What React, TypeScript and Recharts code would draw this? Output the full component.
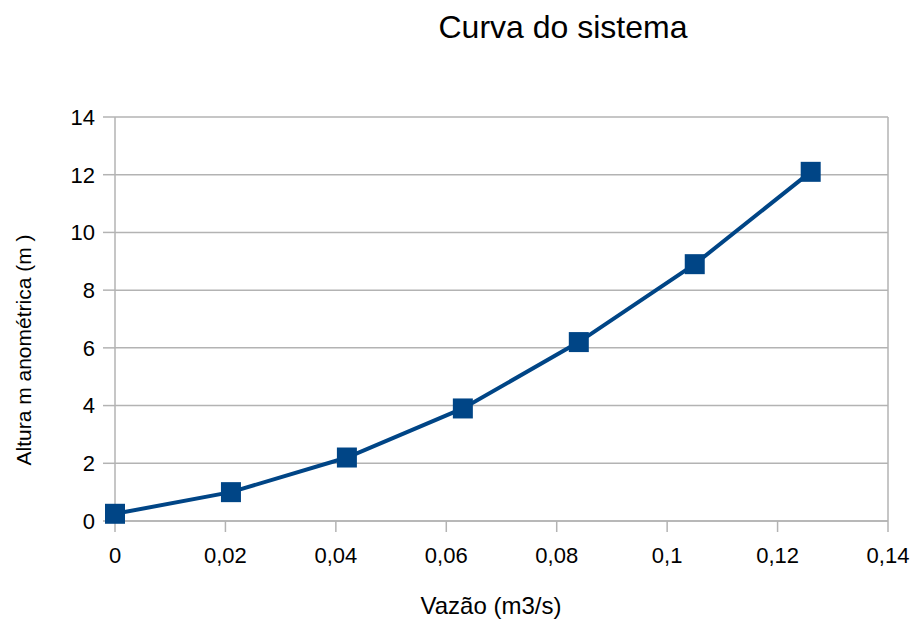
import React from "react";
import {
  LineChart,
  Line,
  XAxis,
  YAxis,
  CartesianGrid,
  ReferenceLine,
} from "recharts";

const vazao = [0, 0.021, 0.042, 0.063, 0.084, 0.105, 0.126];
const altura = [0.25, 1.0, 2.2, 3.9, 6.2, 8.9, 12.1];
const xTicks = [0, 0.02, 0.04, 0.06, 0.08, 0.1, 0.12, 0.14];
const yTicks = [0, 2, 4, 6, 8, 10, 12, 14];

const data = vazao.map((v, i) => ({ vazao: v, altura: altura[i] }));

const FONT = "'Liberation Sans', Arial, sans-serif";
const BLUE = "#004586";
const GRID = "#b3b3b3";

const SquareDot = (props: any) => {
  const { cx, cy } = props;
  if (cx == null || cy == null) return null;
  return <rect x={cx - 10} y={cy - 10} width={20} height={20} fill={BLUE} />;
};

const fmt = (v: number) => String(v).replace(".", ",");

const App = () => {
  return (
    <div style={{ position: "absolute", left: 0, top: 0, fontFamily: FONT }}>
      <LineChart
        width={915}
        height={621}
        data={data}
        margin={{ top: 117, right: 27, left: 0, bottom: 0 }}
      >
        <text x={563} y={38} textAnchor="middle" fontSize={32} fontFamily={FONT} fill="#000">
          Curva do sistema
        </text>
        <text x={491} y={614} textAnchor="middle" fontSize={24} fontFamily={FONT} fill="#000">
          Vazão (m3/s)
        </text>
        <text
          x={31}
          y={350}
          textAnchor="middle"
          fontSize={21}
          fontFamily={FONT}
          fill="#000"
          transform="rotate(-90 31 350)"
        >
          Altura m anométrica (m )
        </text>
        <CartesianGrid vertical={false} stroke={GRID} strokeWidth={1.5} />
        <ReferenceLine x={0.14} stroke={GRID} strokeWidth={1.5} />
        <XAxis
          dataKey="vazao"
          type="number"
          domain={[0, 0.14]}
          ticks={xTicks}
          tickFormatter={fmt}
          height={100}
          stroke={GRID}
          strokeWidth={1.5}
          tickSize={11}
          tickMargin={15}
          tick={{ fill: "#000", fontSize: 22, fontFamily: FONT }}
        />
        <YAxis
          type="number"
          domain={[0, 14]}
          ticks={yTicks}
          width={115}
          stroke={GRID}
          strokeWidth={1.5}
          tickSize={12}
          tickMargin={8}
          tick={{ fill: "#000", fontSize: 22, fontFamily: FONT }}
        />
        <Line
          type="linear"
          dataKey="altura"
          stroke={BLUE}
          strokeWidth={4}
          dot={<SquareDot />}
          activeDot={false}
          isAnimationActive={false}
        />
      </LineChart>
    </div>
  );
};

export default App;
